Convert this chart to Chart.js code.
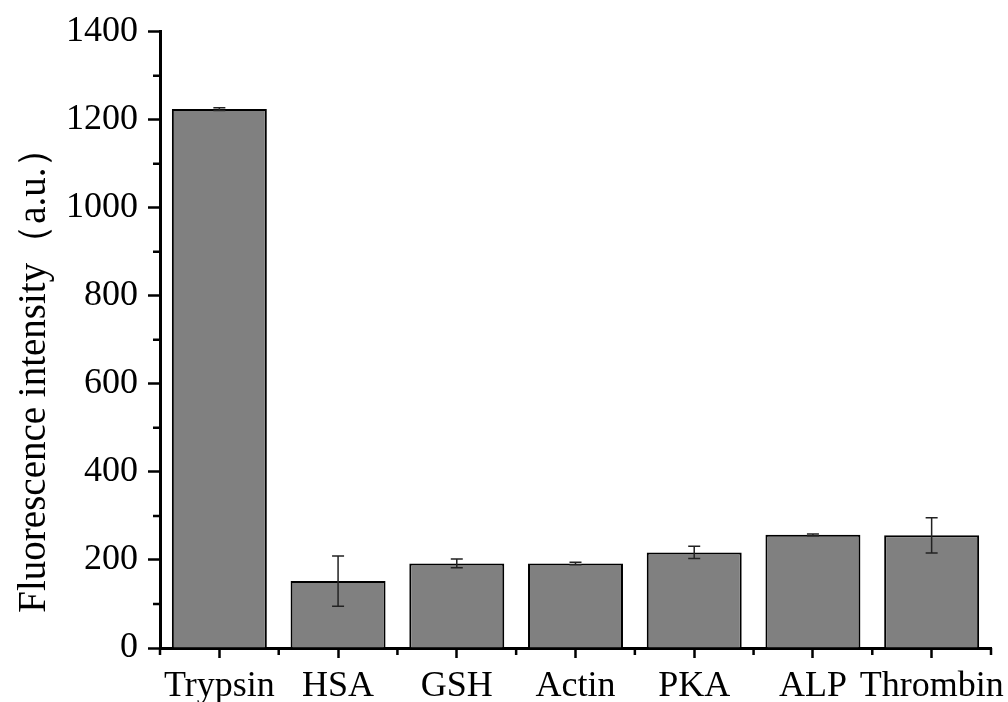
<!DOCTYPE html>
<html>
<head>
<meta charset="utf-8">
<script src="https://cdn.jsdelivr.net/npm/chart.js@4"></script>
<style>
  body { margin: 0; background: #fff; }
  #wrap { width: 1008px; height: 702px; }
</style>
</head>
<body>
<div id="wrap"><canvas id="chart"></canvas></div>
<script>
// données
const categories = ["Trypsin", "HSA", "GSH", "Actin", "PKA", "ALP", "Thrombin"];
const intensites = [1224, 152, 192, 192, 217, 257, 256];
const erreurs = [3, 57, 10, 3, 14, 2, 40];
const yTicks = [0, 200, 400, 600, 800, 1000, 1200, 1400];
const titreY = "Fluorescence intensity（a.u.）";

const police = "'Liberation Serif', 'Times New Roman', serif";

// barres d'erreur, petites graduations et titre de l'axe Y
const extras = {
    id: "extras",
    afterDatasetsDraw(chart) {
        const ctx = chart.ctx;
        const y = chart.scales.y;
        const x = chart.scales.x;
        const meta = chart.getDatasetMeta(0);
        ctx.save();
        ctx.strokeStyle = "#222";
        ctx.lineWidth = 1.5;
        meta.data.forEach((bar, i) => {
            const haut = y.getPixelForValue(intensites[i] + erreurs[i]);
            const bas = y.getPixelForValue(intensites[i] - erreurs[i]);
            ctx.beginPath();
            ctx.moveTo(bar.x, haut); ctx.lineTo(bar.x, bas);
            ctx.moveTo(bar.x - 6, haut); ctx.lineTo(bar.x + 6, haut);
            ctx.moveTo(bar.x - 6, bas); ctx.lineTo(bar.x + 6, bas);
            ctx.stroke();
        });
        // graduations mineures
        ctx.strokeStyle = "#000";
        ctx.lineWidth = 2.5;
        ctx.beginPath();
        for (let v = 100; v < 1400; v += 200) {
            const py = y.getPixelForValue(v);
            ctx.moveTo(x.left - 7, py); ctx.lineTo(x.left, py);
        }
        for (let i = 0; i <= categories.length; i++) {
            const px = x.left + (x.right - x.left) * i / categories.length;
            ctx.moveTo(px, y.bottom); ctx.lineTo(px, y.bottom + 7);
        }
        ctx.stroke();
        // titre Y, un peu décalé vers le bas comme sur l'original
        ctx.translate(45, y.getPixelForValue(630));
        ctx.rotate(-Math.PI / 2);
        ctx.fillStyle = "#000";
        ctx.font = "39px " + police;
        ctx.textAlign = "center";
        ctx.textBaseline = "alphabetic";
        ctx.fillText(titreY, 0, 0);
        ctx.restore();
    }
};

new Chart(document.getElementById("chart"), {
    type: "bar",
    data: {
        labels: categories,
        datasets: [{
            data: intensites,
            backgroundColor: "#808080",
            borderColor: "#000",
            borderWidth: 2,
            borderSkipped: "bottom",
            categoryPercentage: 1,
            barPercentage: 0.8
        }]
    },
    options: {
        responsive: true,
        maintainAspectRatio: false,
        animation: false,
        layout: { padding: { top: 12, right: 17, left: 0, bottom: 0 } },
        plugins: { legend: { display: false }, tooltip: { enabled: false } },
        scales: {
            x: {
                afterFit: s => { s.height = 54; s.paddingRight = 0; },
                border: { color: "#000", width: 3 },
                grid: { drawOnChartArea: false, offset: false, tickLength: 10, tickWidth: 2.5, tickColor: "#000" },
                ticks: { color: "#000", padding: 7, maxRotation: 0, autoSkip: false, font: { family: police, size: 36 } }
            },
            y: {
                min: 0,
                max: 1400,
                afterFit: s => { s.width = 160; },
                afterBuildTicks: s => { s.ticks = yTicks.map(v => ({ value: v })); },
                border: { color: "#000", width: 3 },
                grid: { drawOnChartArea: false, tickLength: 12, tickWidth: 2.5, tickColor: "#000" },
                ticks: {
                    color: "#000",
                    padding: 10,
                    font: { family: police, size: 36 },
                    callback: v => String(v)
                }
            }
        }
    },
    plugins: [extras]
});
</script>
</body>
</html>
